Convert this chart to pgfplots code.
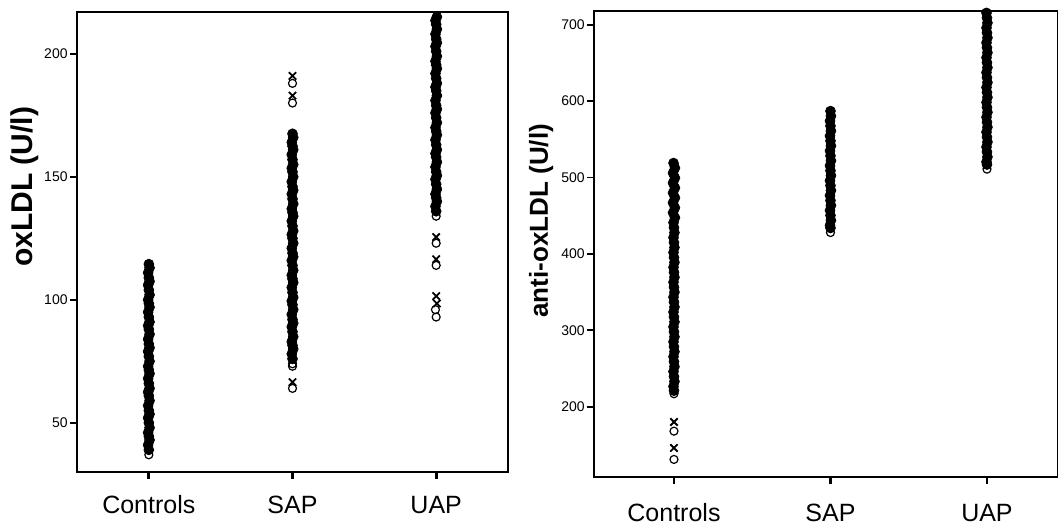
\documentclass[border=0pt]{standalone}
\usepackage{pgfplots}
\pgfplotsset{compat=1.18}
\usepackage{fontspec}
\setmainfont{Liberation Sans}
\pgfplotsset{
  strip/.style={
    scale only axis,
    axis line style={line width=0.7pt},
    tick align=outside,
    xtick={1,2,3},
    xticklabels={Controls,SAP,UAP},
    xtick pos=bottom, ytick pos=left,
    major tick length=3.5pt,
    xtick style={black, line width=1.4pt},
    ytick style={black, line width=0.9pt},
    /pgf/number format/assume math mode=true,
    yticklabel style={font=\fontsize{7}{8}\selectfont, inner sep=1pt},
    xticklabel style={font=\fontsize{12.5}{14}\selectfont, anchor=center},
    clip mode=individual,
  },
  col/.style={only marks, mark=*, mark size=2.45pt, black, mark options={fill=black, draw=black}},
  opn/.style={only marks, mark=o, mark size=2.0pt, black, mark options={fill=white, draw=black, line width=0.6pt}},
  out/.style={only marks, mark=x, mark size=2.6pt, black, mark options={line width=0.9pt}},
}
\begin{document}
\begin{tikzpicture}
\useasboundingbox (0,0) rectangle (529pt,262.5pt);
% ---------------- left panel ----------------
\begin{axis}[strip,
  at={(38.5pt,26.5pt)}, anchor=south west,
  width=215.5pt, height=230pt,
  xmin=0.5, xmax=3.5, ymin=30, ymax=217,
  ytick={50,100,150,200},
  xticklabel style={yshift=-13pt},
  ylabel={oxLDL (U/l)},
  every axis y label/.style={at={(axis description cs:-0.121,0.62)}, rotate=90, anchor=center, font=\bfseries\fontsize{15}{17}\selectfont},
]
% Controls
\addplot[col] coordinates {
(1.00,39) (0.995,41) (1.005,43) (1.00,44.5) (0.995,46) (1.005,48) (1.00,50) (0.995,52) (1.005,53.5)
(1.00,55) (0.995,57) (1.005,59) (1.00,61) (0.995,62.5) (1.005,64) (1.00,66) (0.995,68) (1.005,70)
(1.00,71.5) (0.995,73) (1.005,75) (1.00,77) (0.995,79) (1.005,80.5) (1.00,82) (0.995,84) (1.005,86)
(1.00,88) (0.995,89.5) (1.005,91) (1.00,93) (0.995,95) (1.005,97) (1.00,98.5) (0.995,100) (1.005,102)
(1.00,104) (0.995,106) (1.005,107.5) (1.00,109) (0.995,111) (1.005,113) (1.00,114.5)};
\addplot[opn] coordinates {(1.00,37)};
% SAP
\addplot[col] coordinates {
(2.00,76) (1.995,78) (2.005,80) (2.00,81.5) (1.995,83) (2.005,85) (2.00,87) (1.995,89) (2.005,90.5)
(2.00,92) (1.995,94) (2.005,96) (2.00,98) (1.995,99.5) (2.005,101) (2.00,103) (1.995,105) (2.005,107)
(2.00,108.5) (1.995,110) (2.005,112) (2.00,114) (1.995,116) (2.005,117.5) (2.00,119) (1.995,121) (2.005,123)
(2.00,125) (1.995,126.5) (2.005,128) (2.00,130) (1.995,132) (2.005,134) (2.00,135.5) (1.995,137) (2.005,139)
(2.00,141) (1.995,143) (2.005,144.5) (2.00,146) (1.995,148) (2.005,150) (2.00,152) (1.995,153.5) (2.005,155)
(2.00,157) (1.995,159) (2.005,161) (2.00,162.5) (1.995,164) (2.005,166) (2.00,167.5)};
\addplot[opn] coordinates {(2.00,74) (2.00,73) (2.00,64) (2.00,180) (2.00,188)};
\addplot[out] coordinates {(2.00,66.5) (2.00,183) (2.00,191)};
% UAP
\addplot[col] coordinates {
(3.00,136) (2.995,138) (3.005,140) (3.00,141.5) (2.995,143) (3.005,145) (3.00,147) (2.995,149) (3.005,150.5)
(3.00,152) (2.995,154) (3.005,156) (3.00,158) (2.995,159.5) (3.005,161) (3.00,163) (2.995,165) (3.005,167)
(3.00,168.5) (2.995,170) (3.005,172) (3.00,174) (2.995,176) (3.005,177.5) (3.00,179) (2.995,181) (3.005,183)
(3.00,185) (2.995,186.5) (3.005,188) (3.00,190) (2.995,192) (3.005,194) (3.00,195.5) (2.995,197) (3.005,199)
(3.00,201) (2.995,203) (3.005,204.5) (3.00,206) (2.995,208) (3.005,210) (3.00,212) (2.995,213.5) (3.005,215)};
\addplot[opn] coordinates {(3.00,134) (3.00,123) (3.00,114) (2.995,96) (3.00,93)};
\addplot[out] coordinates {(3.00,125.5) (3.00,116.5) (3.00,101.5) (3.005,98.5)};
\end{axis}
% ---------------- right panel ----------------
\begin{axis}[strip,
  at={(297pt,24pt)}, anchor=south west,
  width=232pt, height=233pt,
  xmin=0.489, xmax=3.454, ymin=108, ymax=718,
  ytick={200,300,400,500,600,700},
  xticklabel style={yshift=-14.5pt},
  ylabel={anti-oxLDL (U/l)},
  every axis y label/.style={at={(axis description cs:-0.114,0.55)}, rotate=90, anchor=center, font=\bfseries\fontsize{13}{15}\selectfont},
]
% Controls
\addplot[col] coordinates {
(1.000,221) (0.997,226.5) (1.003,233) (1.000,239.5) (0.997,246) (1.003,252.5) (1.000,259) (0.997,265.5)
(1.003,272) (1.000,278.5) (0.997,285) (1.003,291.5) (1.000,298) (0.997,304.5) (1.003,311) (1.000,317.5)
(0.997,324) (1.003,330.5) (1.000,337) (0.997,343.5) (1.003,350) (1.000,356.5) (0.997,363) (1.003,369.5)
(1.000,376) (0.997,382.5) (1.003,389) (1.000,395.5) (0.997,402) (1.003,408.5) (1.000,415) (0.997,421.5)
(1.003,428) (1.000,434.5) (0.997,441) (1.006,447.5) (0.994,454) (1.006,460.5) (0.994,467) (1.006,473.5)
(0.994,480) (1.006,486.5) (0.994,493) (1.006,499.5) (0.994,506) (1.006,512.5) (0.997,519)};
\addplot[opn] coordinates {(1.000,217) (1.000,168) (1.000,131)};
\addplot[out] coordinates {(1.000,180) (1.000,146)};
% SAP
\addplot[col] coordinates {
(2.000,434) (1.997,437.5) (2.003,444) (2.000,450.5) (1.997,457) (2.003,463.5) (2.000,470) (1.997,476.5)
(2.003,483) (2.000,489.5) (1.997,496) (2.003,502.5) (2.000,509) (1.997,515.5) (2.003,522) (2.000,528.5)
(1.997,535) (2.003,541.5) (2.000,548) (1.997,554.5) (2.003,561) (2.000,567.5) (1.997,574) (2.003,580.5)
(2.000,587)};
\addplot[opn] coordinates {(2.000,428)};
% UAP
\addplot[col] coordinates {
(3.000,517) (2.997,520.5) (3.003,527) (3.000,533.5) (2.997,540) (3.003,546.5) (3.000,553) (2.997,559.5)
(3.003,566) (3.000,572.5) (2.997,579) (3.003,585.5) (3.000,592) (2.997,598.5) (3.003,605) (3.000,611.5)
(2.997,618) (3.003,624.5) (3.000,631) (2.997,637.5) (3.003,644) (3.000,650.5) (2.997,657) (3.003,663.5)
(3.000,670) (2.997,676.5) (3.003,683) (3.000,689.5) (2.997,696) (3.003,702.5) (3.000,709) (2.997,715.5)};
\addplot[opn] coordinates {(3.000,511)};
\end{axis}
\end{tikzpicture}
\end{document}
